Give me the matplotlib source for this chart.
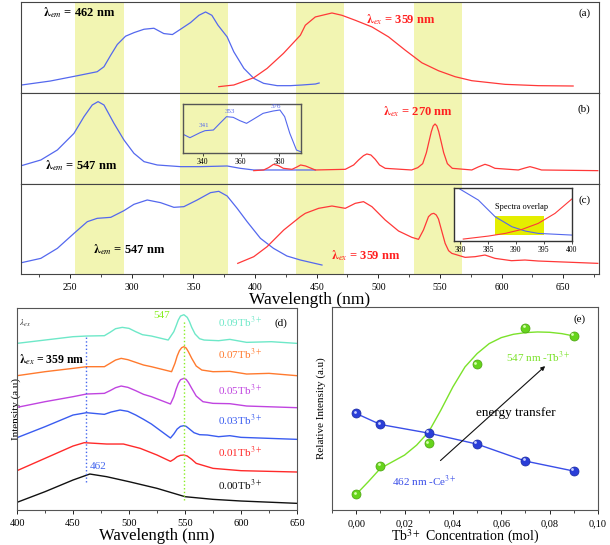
import matplotlib
matplotlib.use("Agg")
import matplotlib.pyplot as plt
from matplotlib.patches import Rectangle
from matplotlib.ticker import MultipleLocator, FuncFormatter
import matplotlib.transforms as mtransforms

plt.rcParams['font.family'] = ['Liberation Serif', 'DejaVu Serif']
plt.rcParams['mathtext.fontset'] = 'stix'
plt.rcParams['axes.linewidth'] = 0.8

BLUE = '#5468ee'
RED = '#ff3838'
BAND = '#f2f5b2'

# ---- top panels: wavelength (nm) vs intensity (arbitrary) ----
bands = [(254, 294), (339, 378), (433, 472), (529, 568)]

a_ex_wl = [210.6, 234, 254.6, 272, 277.5, 283, 288.3, 295, 302, 310, 318, 326, 333, 339.6, 347.7,
           354.5, 359.9, 365, 370, 377.4, 382.8, 391, 399, 407, 418, 428.7, 438, 449, 452]
a_ex_int = [25, 37, 52, 65, 80, 115, 147, 172, 183, 193, 196, 180, 177, 193, 213,
            235, 245, 235, 205, 170, 125, 75, 45, 30, 23, 23, 25, 28, 31]
a_em_wl = [370.6, 382.8, 399, 409.8, 423, 436.8, 440.8, 448.9, 462.4, 470.5, 481.3, 494.8, 508.3,
           521.8, 535.3, 548.8, 562.3, 575.8, 602.8, 629.8, 658]
a_em_int = [20, 25, 47, 75, 120, 175, 205, 230, 242, 235, 220, 200, 170,
            130, 92, 68, 50, 38, 27, 23, 22]

b_ex_wl = [210.6, 226.3, 239.7, 253.2, 261.3, 268, 272.7, 277.5, 285.6, 293.7, 301.8, 310, 320.7,
           339.6, 355.8, 377.4, 388, 399, 436, 449]
b_ex_int = [56, 73, 103, 153, 203, 238, 248, 238, 183, 133, 93, 68, 58,
            53, 53, 55, 48, 43, 43, 43]
b_em_wl = [399, 407, 411, 415, 419, 423, 430, 434, 437, 441, 448.9, 473.2, 480, 484, 488, 490.7,
           494, 497.5, 501, 505.6, 527, 532, 536, 539, 541, 543, 544.5, 546, 547.5, 549, 551, 553,
           556, 560, 575.8, 581, 586.5, 590, 594.6, 613.5, 619, 623, 627, 632.4, 678]
b_em_int = [41, 43, 50, 60, 56, 48, 45, 52, 58, 55, 43, 45, 58, 73, 86, 91,
            88, 75, 58, 48, 43, 50, 62, 95, 127, 158, 175, 181, 175, 158, 127, 95,
            62, 48, 43, 52, 60, 56, 48, 43, 49, 53, 49, 43, 41]

c_ex_wl = [210.6, 226.3, 239.7, 253.2, 264, 272, 283, 293.7, 301.8, 312.6, 323.4, 334.2, 342.3,
           353.1, 363.9, 370.6, 377.4, 385.5, 393.6, 404.4, 415, 425.9, 436.8, 454.3]
c_ex_int = [34, 47, 77, 122, 157, 167, 170, 190, 209, 222, 214, 200, 202,
            222, 244, 248, 234, 197, 157, 107, 77, 54, 42, 27]
c_em_wl = [386, 399, 409.8, 423.3, 436.8, 440.8, 451.6, 462.4, 473.2, 481.3, 488, 494.8, 505.6,
           516.4, 527.2, 532.6, 536.6, 540.7, 543, 545, 547, 548.8, 551, 554.2, 557, 559.6, 570.4,
           578.5, 586.5, 594.6, 608, 618.9, 629.8, 678]
c_em_int = [32, 52, 82, 132, 172, 182, 197, 204, 197, 212, 217, 202, 162,
            129, 110, 104, 132, 172, 180, 182, 177, 165, 135, 92, 70, 62, 50,
            52, 57, 47, 40, 42, 39, 32]

# inset of (b)
ib_wl = [329.8, 333.3, 338.6, 341.2, 345.6, 349, 352.5, 356, 359.5, 363, 366.5, 371.7, 377,
         380.5, 383, 385.7, 389.2, 391.4]
ib_int = [55, 45, 60, 66, 68, 88, 108, 106, 96, 88, 100, 118, 125, 128, 108, 58, 8, 3]

# inset of (c)
ic_ex_wl = [380, 383.3, 386.3, 389.3, 391.7, 394, 400]
ic_ex_int = [155, 122, 72, 42, 29, 22, 17]
ic_em_wl = [380.6, 385.1, 388.1, 391.1, 394, 397, 400]
ic_em_int = [5, 14, 22, 34, 52, 82, 125]

# ---- (d) emission spectra, lambda_ex = 359 nm ----
d_labels = ['0.00', '0.01', '0.03', '0.05', '0.07', '0.09']
d_colors = ['#111111', '#ff2a2a', '#3a5cf0', '#c044e0', '#ff7a2e', '#6ee8c8']
d_wl = [
    [400, 425, 450, 465, 480, 500, 525, 550, 575, 600, 650],
    [400, 425, 450, 460, 480, 495, 510, 525, 537, 540, 543, 546, 549, 552, 556, 560, 575, 600, 650],
    [400, 425, 450, 462, 478, 484, 492, 499, 506, 513, 520, 537, 540, 543, 546, 549, 551, 554, 558,
     563, 570, 580, 590, 600, 650],
    [400, 425, 450, 462, 478, 483, 488, 493, 499, 506, 513, 520, 537, 540, 542, 544, 546, 549, 551,
     553, 556, 560, 566, 575, 590, 605, 650],
    [400, 425, 450, 462, 478, 483, 488, 493, 499, 506, 513, 520, 538, 541, 543, 545, 547, 549, 551,
     553, 556, 560, 565, 575, 590, 605, 625, 650],
    [400, 425, 450, 462, 478, 483, 488, 494, 500, 506, 512, 520, 535, 540, 542, 544, 546, 549, 552,
     554, 556, 559, 563, 567, 580, 590, 605, 627, 650],
]
d_int = [
    [23, 55, 90, 108, 100, 85, 65, 40, 32, 27, 20],
    [118, 155, 192, 202, 198, 198, 185, 165, 146, 152, 160, 164, 165, 162, 152, 140, 125, 118, 114],
    [217, 250, 285, 292, 287, 294, 300, 296, 285, 272, 258, 216, 228, 243, 251, 253, 251, 243, 232,
     226, 225, 220, 223, 218, 212],
    [308, 325, 340, 348, 350, 358, 367, 372, 368, 358, 347, 340, 318, 340, 362, 380, 391, 395, 392,
     383, 365, 342, 325, 320, 319, 312, 307],
    [403, 415, 425, 430, 430, 440, 450, 455, 451, 443, 435, 430, 415, 440, 462, 478, 487, 490, 486,
     475, 455, 432, 420, 415, 416, 408, 410, 403],
    [500, 510, 520, 522, 523, 533, 544, 548, 545, 535, 526, 522, 510, 535, 552, 570, 582, 586, 578,
     565, 548, 528, 514, 510, 508, 512, 503, 505, 500],
]
d_label_y = [73, 172, 268, 360, 467, 562]

# ---- (e) relative intensity vs Tb3+ concentration ----
conc = [0.00, 0.01, 0.03, 0.05, 0.07, 0.09]
tb_547 = [47, 132, 200, 438, 548, 523]
ce_462 = [290, 257, 231, 198, 147, 117]
tb_fit_x = [0.00, 0.005, 0.01, 0.015, 0.02, 0.025, 0.03, 0.035, 0.04, 0.045, 0.05, 0.055,
            0.06, 0.065, 0.07, 0.075, 0.08, 0.085, 0.09]
tb_fit_y = [47, 85, 125, 145, 165, 195, 235, 300, 370, 430, 470, 500,
            518, 528, 533, 535, 534, 530, 523]

fig = plt.figure(figsize=(6.1, 5.45), dpi=100)

W0, WW = 0.034, 0.948
ax_a = fig.add_axes([W0, 0.8288, WW, 0.1675])
ax_b = fig.add_axes([W0, 0.6618, WW, 0.1670])
ax_c = fig.add_axes([W0, 0.4972, WW, 0.1646])

for ax, ylim in [(ax_a, 275), (ax_b, 273), (ax_c, 269)]:
    for lo, hi in bands:
        ax.axvspan(lo, hi, color=BAND, lw=0, zorder=0)
    ax.set_xlim(210, 679)
    ax.set_ylim(0, ylim)
    ax.set_yticks([])
    ax.xaxis.set_major_locator(MultipleLocator(50))
    ax.xaxis.set_minor_locator(MultipleLocator(25))
    ax.tick_params(axis='x', which='major', direction='out', length=3, width=0.6, labelsize=7)
    ax.tick_params(axis='x', which='minor', direction='out', length=2, width=0.5)
    for s in ax.spines.values():
        s.set_color('#444444')

ax_a.tick_params(axis='x', labelbottom=False)
ax_b.tick_params(axis='x', labelbottom=False)

lw = 0.9
ax_a.plot(a_ex_wl, a_ex_int, color=BLUE, lw=lw)
ax_a.plot(a_em_wl, a_em_int, color=RED, lw=lw)
ax_b.plot(b_ex_wl, b_ex_int, color=BLUE, lw=lw)
ax_b.plot(b_em_wl, b_em_int, color=RED, lw=lw)
ax_c.plot(c_ex_wl, c_ex_int, color=BLUE, lw=lw)
ax_c.plot(c_em_wl, c_em_int, color=RED, lw=lw)

lab = dict(fontsize=9, fontweight='bold', va='center')
ax_a.text(228, 242, r'$\mathbf{\lambda}_{em}$ = 462 nm', color='black', **lab)
ax_a.text(490, 221, r'$\mathbf{\lambda}_{ex}$ = 359 nm', color='#ff2020', **lab)
ax_a.text(672, 240, '(a)', fontsize=8, ha='right', va='center')
ax_b.text(230, 55, r'$\mathbf{\lambda}_{em}$ = 547 nm', color='black', **lab)
ax_b.text(504, 217, r'$\mathbf{\lambda}_{ex}$ = 270 nm', color='#ff2020', **lab)
ax_b.text(672, 226, '(b)', fontsize=8, ha='right', va='center')
ax_c.text(269, 72, r'$\mathbf{\lambda}_{em}$ = 547 nm', color='black', **lab)
ax_c.text(462, 54, r'$\mathbf{\lambda}_{ex}$ = 359 nm', color='#ff2020', **lab)
ax_c.text(672, 222, '(c)', fontsize=8, ha='right', va='center')
ax_c.set_xlabel('Wavelength (nm)', fontsize=12.5, labelpad=0)

# inset of (b)
ins_b = fig.add_axes([0.2995, 0.7198, 0.1934, 0.0894])
ins_b.set_facecolor('none')
ins_b.plot(ib_wl, ib_int, color=BLUE, lw=0.8)
ins_b.set_xlim(329.5, 391.4)
ins_b.set_ylim(0, 146)
ins_b.set_yticks([])
ins_b.set_xticks([340, 360, 380])
ins_b.tick_params(axis='x', labelsize=5.5, length=2, width=0.5, pad=1.5)
for s in ins_b.spines.values():
    s.set_color('#555555')
    s.set_linewidth(1.0)
for txt, x, y in [('341', 340.7, 73), ('353', 354, 116), ('376', 378.4, 131)]:
    ins_b.text(x, y, txt, color=BLUE, fontsize=5, ha='center', va='bottom')

# inset of (c)
ins_c = fig.add_axes([0.7448, 0.5583, 0.1925, 0.0972])
ins_c.add_patch(Rectangle((386.3, 17), 8.8, 57, color='#e4ee00', lw=0, zorder=0))
ins_c.plot(ic_ex_wl, ic_ex_int, color=BLUE, lw=0.8)
ins_c.plot(ic_em_wl, ic_em_int, color=RED, lw=0.8)
ins_c.set_xlim(379, 400)
ins_c.set_ylim(0, 159)
ins_c.set_yticks([])
ins_c.set_xticks([380, 385, 390, 395, 400])
ins_c.tick_params(axis='x', labelsize=5.5, length=2, width=0.5, pad=1.5)
ins_c.text(391, 100, 'Spectra overlap', fontsize=6, ha='center', va='center')
for s in ins_c.spines.values():
    s.set_color('#333333')
    s.set_linewidth(1.0)

# ---- (d) ----
ax_d = fig.add_axes([0.0279, 0.0642, 0.459, 0.3706])
for wl, inten, col, name, ly in zip(d_wl, d_int, d_colors, d_labels, d_label_y):
    ax_d.plot(wl, inten, color=col, lw=1.0)
    ax_d.text(599, ly, name + r'Tb$^{3+}$', color=col, fontsize=8, ha='center', va='center')
ax_d.axvline(462, ymin=85 / 606, ymax=525 / 606, color='#4466ee', ls=':', lw=1.0)
ax_d.axvline(549, ymin=30 / 606, ymax=570 / 606, color='#88ee22', ls=':', lw=1.0)
ax_d.text(465, 130, '462', color='#4466ee', fontsize=8, va='center')
ax_d.text(522, 585, '547', color='#88ee22', fontsize=8, va='center')
ax_d.text(636, 560, '(d)', fontsize=8, ha='center', va='center')
ax_d.text(402, 560, r'$\lambda_{ex}$', fontsize=6.5, color='#333333', va='center')
ax_d.text(402, 452, r'$\mathbf{\lambda}_{ex}$ = 359 nm', fontsize=8.5, fontweight='bold', va='center')
ax_d.set_xlim(400, 650)
ax_d.set_ylim(0, 606)
ax_d.set_yticks([])
ax_d.xaxis.set_major_locator(MultipleLocator(50))
ax_d.xaxis.set_minor_locator(MultipleLocator(25))
ax_d.tick_params(axis='x', which='major', labelsize=7.5, length=3, width=0.6, direction='out')
ax_d.tick_params(axis='x', which='minor', length=2, width=0.5, direction='out')
ax_d.set_xlabel('Wavelength (nm)', fontsize=12, labelpad=0)
ax_d.set_ylabel('Intensity (a.u)', fontsize=8, labelpad=-3)
for s in ax_d.spines.values():
    s.set_color('#555555')

# ---- (e) ----
ax_e = fig.add_axes([0.5443, 0.0642, 0.436, 0.3725])
ax_e.plot(tb_fit_x, tb_fit_y, color='#7be22a', lw=1.0, zorder=2)
ax_e.plot(conc, ce_462, color='#3a4ee8', lw=1.0, zorder=2)
hl = mtransforms.offset_copy(ax_e.transData, fig=fig, x=-1.2, y=1.2, units='points')
ax_e.plot(conc, tb_547, 'o', color='#66d41c', mec='#4aa010', mew=0.5, ms=6.5, zorder=3)
ax_e.plot(conc, ce_462, 'o', color='#2a3ed8', mec='#1a2aa0', mew=0.5, ms=6.5, zorder=3)
ax_e.plot(conc, tb_547, 'o', color='#d8ffb0', mew=0, ms=2, zorder=4, transform=hl)
ax_e.plot(conc, ce_462, 'o', color='#c8d0ff', mew=0, ms=2, zorder=4, transform=hl)
ax_e.annotate('', xy=(0.079, 438), xytext=(0.034, 143),
              arrowprops=dict(arrowstyle='-|>', color='#111111', lw=0.8, mutation_scale=6))
ax_e.text(0.066, 290, 'energy transfer', fontsize=9.5, ha='center', va='center')
ax_e.text(0.0755, 458, r'547 nm -Tb$^{3+}$', color='#7be22a', fontsize=8, ha='center', va='center')
ax_e.text(0.028, 85, r'462 nm -Ce$^{3+}$', color='#3a4ee8', fontsize=8, ha='center', va='center')
ax_e.text(0.0925, 572, '(e)', fontsize=8, ha='center', va='center')
ax_e.set_xlim(-0.01, 0.10)
ax_e.set_ylim(0, 610)
ax_e.set_yticks([])
ax_e.xaxis.set_major_locator(MultipleLocator(0.02))
ax_e.xaxis.set_minor_locator(MultipleLocator(0.01))
ax_e.xaxis.set_major_formatter(FuncFormatter(lambda v, p: f'{v:.2f}'.replace('.', ',')))
ax_e.tick_params(axis='x', which='major', labelsize=7.5, length=3, width=0.6, direction='out')
ax_e.tick_params(axis='x', which='minor', length=2, width=0.5, direction='out')
ax_e.set_xlabel(r'Tb$^{3+}$ Concentration (mol)', fontsize=10, labelpad=0)
ax_e.set_ylabel('Relative Intensity (a.u)', fontsize=8, labelpad=4)
for s in ax_e.spines.values():
    s.set_color('#555555')

fig.savefig('out.png', dpi=100)
